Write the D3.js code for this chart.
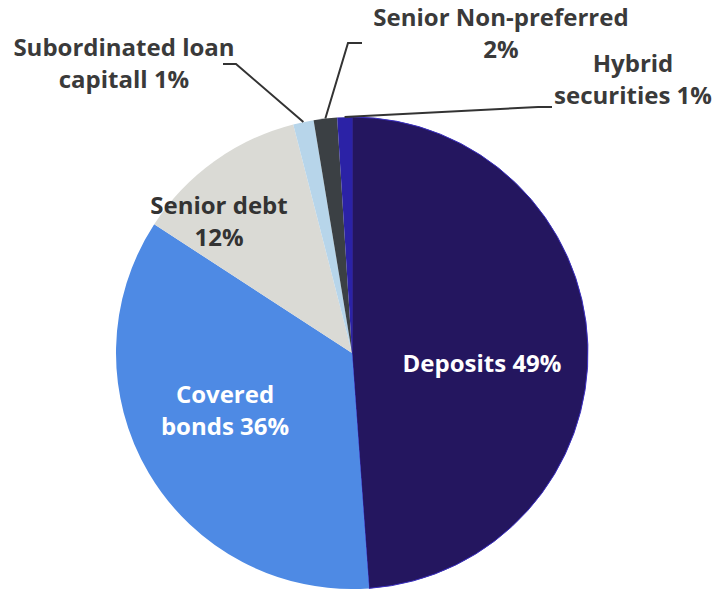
<!DOCTYPE html>
<html>
<head>
<meta charset="utf-8">
<script src="https://cdn.jsdelivr.net/npm/d3@7"></script>
<style>
  body { margin: 0; background: #fff; }
  svg text { font-family: "Open Sans", sans-serif; font-weight: 700; }
</style>
</head>
<body>
<svg id="chart" width="717" height="590"></svg>
<script>
// funding mix, clockwise from 12 o'clock
const categories = ["Deposits", "Covered bonds", "Senior debt", "Subordinated loan capitall", "Senior Non-preferred", "Hybrid securities"];
const shares = [48.8, 35.3, 11.8, 1.4, 1.6, 1.0];
const labelLines = [
  ["Deposits 49%"],
  ["Covered", "bonds 36%"],
  ["Senior debt", "12%"],
  ["Subordinated loan", "capitall 1%"],
  ["Senior Non-preferred", "2%"],
  ["Hybrid", "securities 1%"]
];
const colors = ["#24165f", "#4e8ae4", "#dadad5", "#b7d5ea", "#3b4044", "#2b22a6"];

// label placement (centre x, first baseline) and leader elbows
const labelPos = [[482, 372], [225, 403], [219, 214], [124, 56], [501, 26], [633, 72]];
const leaders = [null, null, null, [[236, 64], [223, 64]], [[348, 43], [362, 43]], [[538, 107], [552, 107]]];
const textColor = ["#ffffff", "#ffffff", "#333333", "#3a3a3a", "#3a3a3a", "#3a3a3a"];

const cx = 352, cy = 353, radius = 236, lineGap = 32;

const svg = d3.select("#chart");
const g = svg.append("g").attr("transform", `translate(${cx}, ${cy})`);

const data = categories.map((c, i) => ({ name: c, value: shares[i], i: i }));

const pie = d3.pie().sort(null).value(d => d.value);
const arc = d3.arc().innerRadius(0).outerRadius(radius);
const arcs = pie(data);

g.selectAll(".slice")
  .data(arcs)
  .enter()
  .append("path")
  .attr("class", "slice")
  .attr("d", arc)
  .style("fill", d => colors[d.data.i])
  .style("stroke", d => d.data.i === 0 ? "#3a2fc0" : "none")
  .style("stroke-width", 1);

// leader lines from the slice edge to the label
arcs.forEach(function (d) {
  const pts = leaders[d.data.i];
  if (!pts) return;
  const mid = (d.startAngle + d.endAngle) / 2;
  const start = [cx + radius * Math.sin(mid), cy - radius * Math.cos(mid)];
  svg.append("path")
    .attr("d", d3.line()([start].concat(pts)))
    .style("fill", "none")
    .style("stroke", "#333")
    .style("stroke-width", 2);
});

labelLines.forEach(function (lines, i) {
  const t = svg.append("text")
    .attr("text-anchor", "middle")
    .style("font-size", "24px")
    .style("fill", textColor[i]);
  lines.forEach(function (line, k) {
    t.append("tspan")
      .attr("x", labelPos[i][0])
      .attr("y", labelPos[i][1] + k * lineGap)
      .text(line);
  });
});
</script>
</body>
</html>
